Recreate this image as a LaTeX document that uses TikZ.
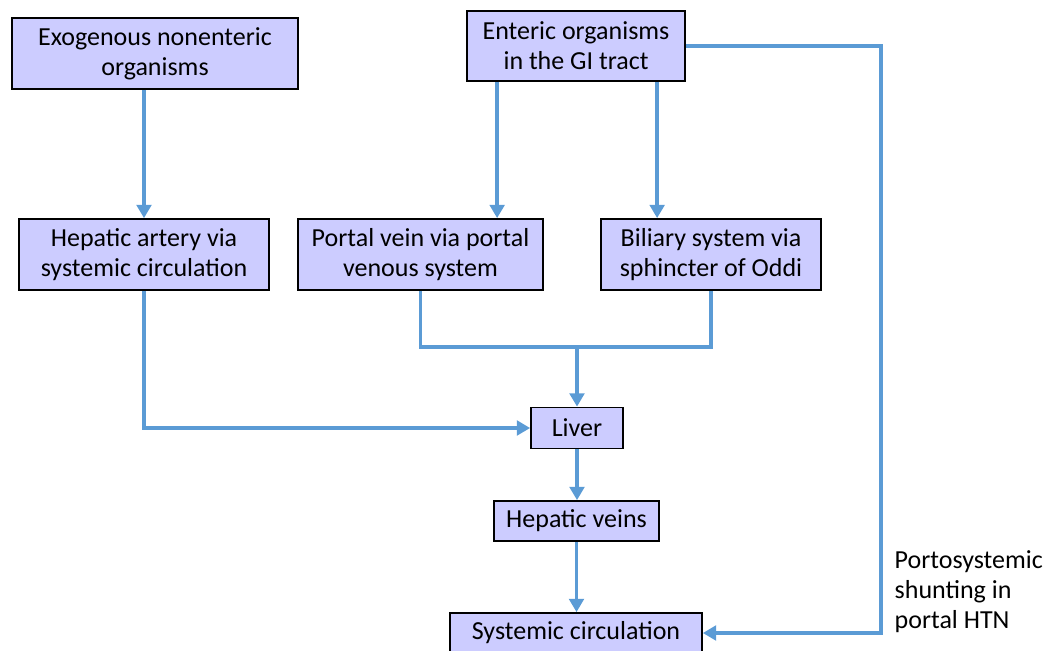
\documentclass[tikz,border=0pt]{standalone}
\usepackage{fontspec}
\setmainfont{Carlito}
\usetikzlibrary{arrows.meta}
\definecolor{boxfill}{HTML}{CCCCFF}
\definecolor{flowblue}{HTML}{5B9BD5}
\tikzset{
  box/.style={draw=black, line width=1.3pt, fill=boxfill, inner sep=0pt, align=center,
    font=\fontsize{19.5}{22.5}\selectfont},
  flow/.style={flowblue, line width=2.7pt, -{Triangle[length=10pt,width=11pt]}},
  flowline/.style={flowblue, line width=2.7pt}
}
\begin{document}
\begin{tikzpicture}[x=0.75pt, y=-0.75pt]
  \useasboundingbox (0,0) rectangle (1053,650);
  \begin{scope}
  \clip (0,0) rectangle (1053,650);
  \node[box, minimum width=214.5pt, minimum height=53.25pt] (exo) at (155,53.5) {Exogenous nonenteric\\organisms};
  \node[box, minimum width=163.5pt, minimum height=52.5pt] (enteric) at (576,46) {Enteric organisms\\in the GI tract};
  \node[box, minimum width=187.5pt, minimum height=53.25pt] (hart) at (144,254.5) {Hepatic artery via\\systemic circulation};
  \node[box, minimum width=183.75pt, minimum height=53.25pt] (portal) at (420.5,254.5) {Portal vein via portal\\venous system};
  \node[box, minimum width=165pt, minimum height=53.25pt] (biliary) at (711,254.5) {Biliary system via\\sphincter of Oddi};
  \node[box, minimum width=69pt, minimum height=30.75pt] (liver) at (577,428) {Liver};
  \node[box, minimum width=123.75pt, minimum height=30pt] (hveins) at (576.5,521) {Hepatic veins};
  \node[box, minimum width=189pt, minimum height=30pt] (systemic) at (576,633) {Systemic circulation};
  \node[anchor=west, align=left, font=\fontsize{19.5}{22.5}\selectfont] (shuntlbl) at (890,592) {Portosystemic\\shunting in\\portal HTN};
  \coordinate (merge) at (577,347);

  \draw[flow] (exo.south -| hart.north) -- (hart.north);
  \draw[flow] ([xshift=23.25pt]enteric.south west) -- ([xshift=23.25pt]enteric.south west |- portal.north);
  \draw[flow] ([xshift=143.25pt]enteric.south west) -- ([xshift=143.25pt]enteric.south west |- biliary.north);
  \draw[flow] (enteric.east) -- ++(195,0) |- (systemic.east);
  \draw[flowline] (portal.south) |- (merge) -| (biliary.south);
  \draw[flow] (merge) -- (merge |- liver.north);
  \draw[flow] (hart.south) |- (liver.west);
  \draw[flow] (liver.south) -- (liver.south |- hveins.north);
  \draw[flow] (hveins.south) -- (hveins.south |- systemic.north);
  \end{scope}
\end{tikzpicture}
\end{document}
